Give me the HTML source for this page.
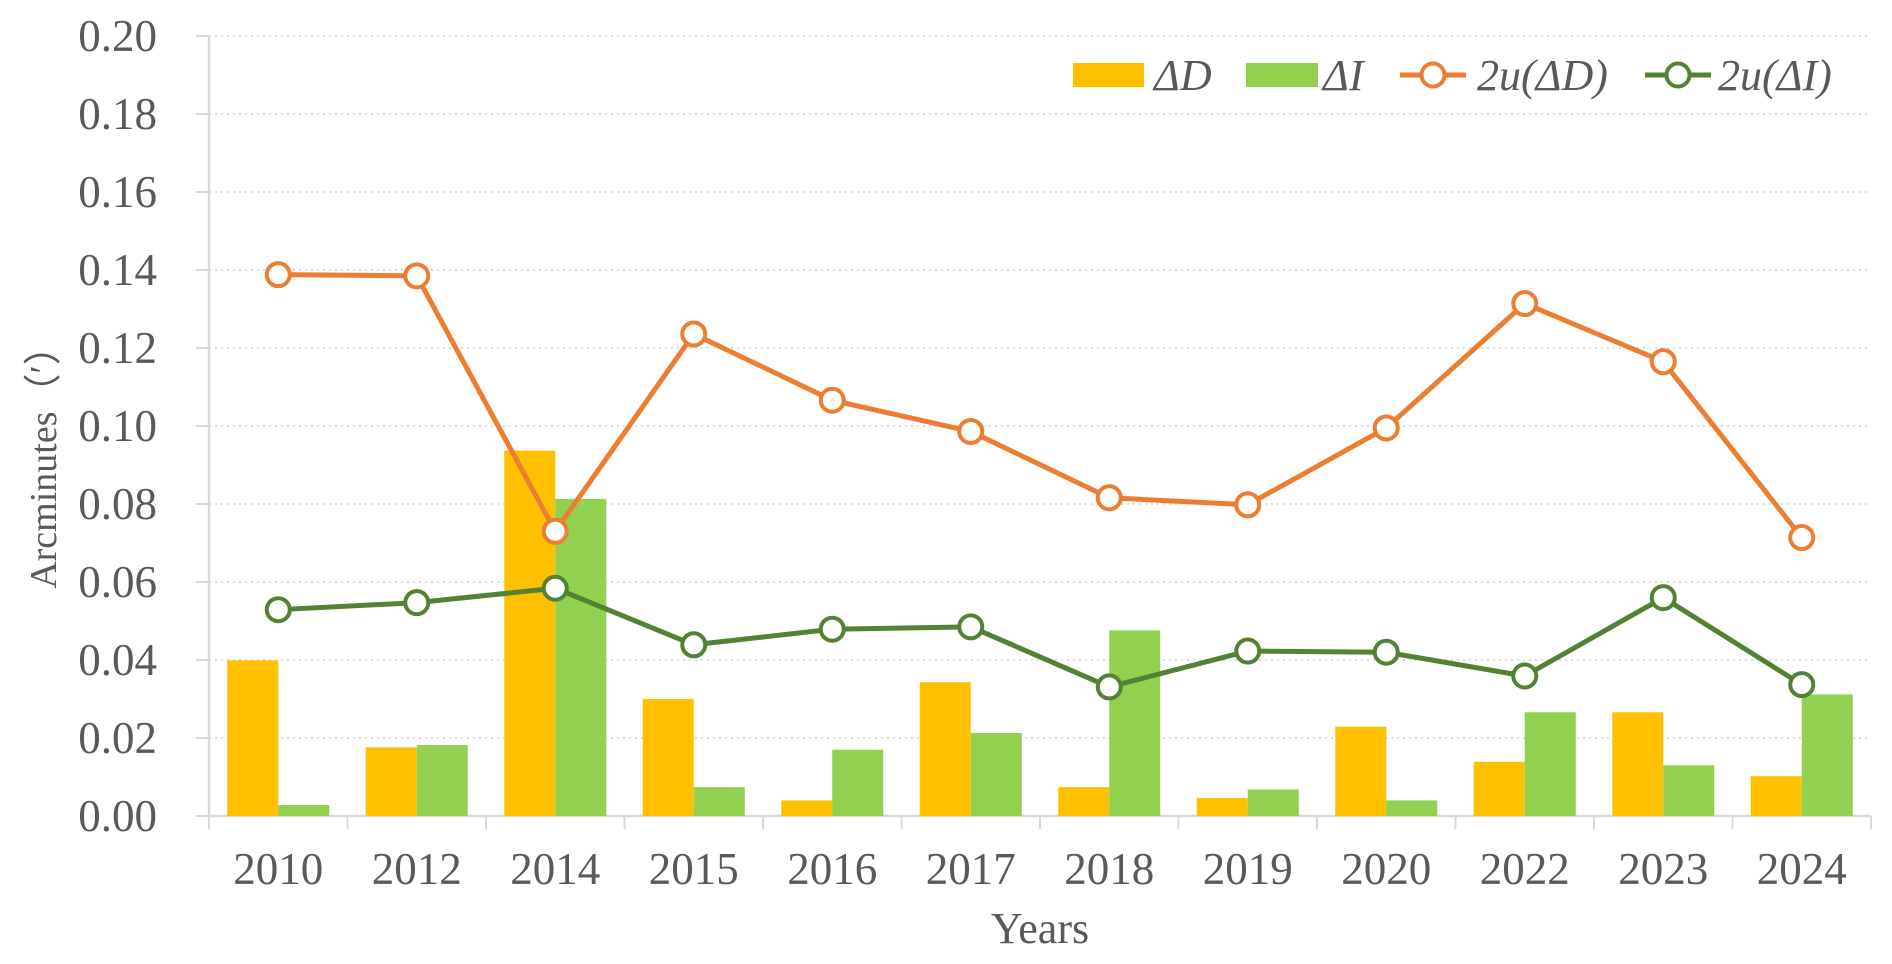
<!DOCTYPE html>
<html><head><meta charset="utf-8"><style>
html,body{margin:0;padding:0;background:#fff;}
svg{display:block;font-family:"Liberation Serif",serif;}
</style></head><body>
<svg id="c" width="1892" height="964" xmlns="http://www.w3.org/2000/svg"></svg>
<script>
const s=document.getElementById('c');
let h='';
const L=209,R=1871,B=816,T=36,pu=(B-T)/0.2;
const yv=v=>B-v*pu;
const cw=(R-L)/12;
const yrs=['2010','2012','2014','2015','2016','2017','2018','2019','2020','2022','2023','2024'];
const dD=[0.0399,0.0176,0.0937,0.030,0.004,0.0343,0.0074,0.0046,0.0229,0.0139,0.0266,0.0102];
const dI=[0.0028,0.0182,0.0813,0.0074,0.017,0.0213,0.0476,0.0068,0.004,0.0266,0.013,0.0312];
const uD=[0.1388,0.1385,0.073,0.1236,0.1066,0.0986,0.0816,0.0798,0.0995,0.1314,0.1165,0.0714];
const uI=[0.0529,0.0547,0.0584,0.0439,0.0479,0.0485,0.0331,0.0423,0.042,0.0359,0.056,0.0337];
for(let i=1;i<=10;i++){const y=yv(i*0.02);
 h+=`<line x1="${L}" x2="${R}" y1="${y}" y2="${y}" stroke="#d0d0d0" stroke-width="1.5" stroke-dasharray="2,4"/>`;}
for(let i=0;i<=10;i++){const y=yv(i*0.02);
 h+=`<line x1="${L-13}" x2="${L}" y1="${y}" y2="${y}" stroke="#d9d9d9" stroke-width="2"/>`;
 h+=`<text x="157" y="${y+15}" text-anchor="end" font-size="45" fill="#595959">${(i*0.02).toFixed(2)}</text>`;}
h+=`<line x1="${L}" x2="${L}" y1="${T}" y2="${B}" stroke="#d9d9d9" stroke-width="2.5"/>`;
h+=`<line x1="${L}" x2="${R}" y1="${B}" y2="${B}" stroke="#d9d9d9" stroke-width="2.5"/>`;
for(let i=0;i<=12;i++){const x=L+i*cw;h+=`<line x1="${x}" x2="${x}" y1="${B}" y2="${B+13}" stroke="#d9d9d9" stroke-width="2"/>`;}
const bw=51;
yrs.forEach((y,i)=>{const c=L+cw*(i+0.5);
 h+=`<rect x="${c-bw}" y="${yv(dD[i])}" width="${bw}" height="${dD[i]*pu}" fill="#ffc000"/>`;
 h+=`<rect x="${c}" y="${yv(dI[i])}" width="${bw}" height="${dI[i]*pu}" fill="#92d050"/>`;
 h+=`<text x="${c}" y="884" text-anchor="middle" font-size="45" fill="#595959">${y}</text>`;});
function line(d,col){let p=d.map((v,i)=>`${L+cw*(i+0.5)},${yv(v)}`).join(' ');
 h+=`<polyline points="${p}" fill="none" stroke="${col}" stroke-width="5" stroke-linejoin="round"/>`;
 d.forEach((v,i)=>{h+=`<circle cx="${L+cw*(i+0.5)}" cy="${yv(v)}" r="11.5" fill="#fff" stroke="${col}" stroke-width="4"/>`;});}
line(uD,'#ed7d31');line(uI,'#548235');
h+=`<rect x="1073" y="63" width="71" height="24" fill="#ffc000"/><text x="1154" y="90" font-size="44" font-style="italic" fill="#595959">ΔD</text>`;
h+=`<rect x="1246" y="63" width="72" height="24" fill="#92d050"/><text x="1323" y="90" font-size="44" font-style="italic" fill="#595959">ΔI</text>`;
h+=`<line x1="1400" x2="1466" y1="75" y2="75" stroke="#ed7d31" stroke-width="5"/><circle cx="1433" cy="75" r="11.5" fill="#fff" stroke="#ed7d31" stroke-width="4"/><text x="1477" y="90" font-size="44" font-style="italic" fill="#595959">2u(ΔD)</text>`;
h+=`<line x1="1645" x2="1711" y1="75" y2="75" stroke="#548235" stroke-width="5"/><circle cx="1678" cy="75" r="11.5" fill="#fff" stroke="#548235" stroke-width="4"/><text x="1718" y="90" font-size="44" font-style="italic" fill="#595959">2u(ΔI)</text>`;
h+=`<text x="1040" y="943" text-anchor="middle" font-size="44" fill="#595959">Years</text>`;
h+=`<text transform="translate(56,458) rotate(-90)" text-anchor="middle" font-size="38" fill="#595959">Arcminutes（′）</text>`;
s.innerHTML=h;
</script>
</body></html>
